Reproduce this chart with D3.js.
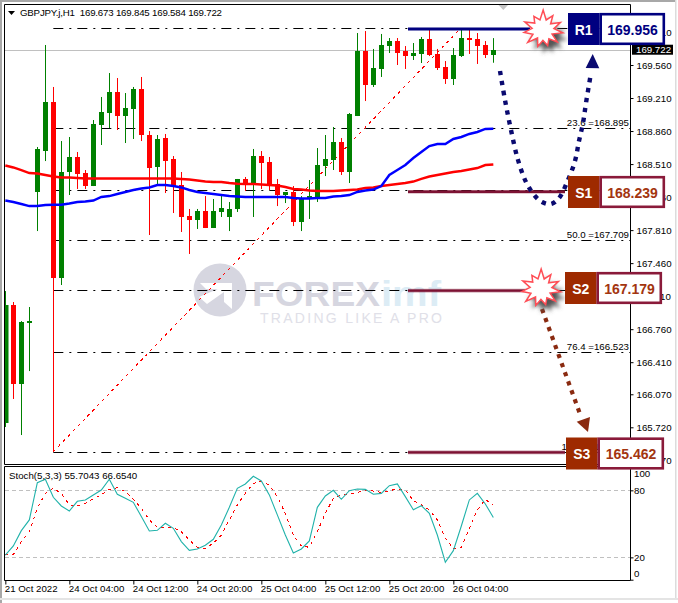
<!DOCTYPE html>
<html><head><meta charset="utf-8">
<script src="https://cdnjs.cloudflare.com/ajax/libs/d3/7.8.5/d3.min.js"></script>
<style>html,body{margin:0;padding:0;background:#fff;overflow:hidden}svg{display:block}text{font-family:"Liberation Sans",Arial,sans-serif}</style>
</head><body><svg id="c" width="678" height="603"></svg>
<script>
const opens=[165.765,167.016,166.179,166.825,168.214,168.648,169.168,167.302,168.426,168.585,168.415,168.277,168.924,169.051,169.274,169.019,169.094,169.306,168.818,168.479,168.786,168.564,168.288,167.959,167.917,168.012,167.832,168.002,167.949,168.034,168.352,168.299,168.595,168.532,168.299,168.182,168.214,167.896,168.140,168.161,168.489,168.553,168.744,168.426,169.019,169.708,169.348,169.518,169.761,169.814,169.708,169.655,169.677,169.836,169.677,169.539,169.412,169.655,169.846,169.836,169.772,169.673];
const highs=[167.164,167.048,166.846,166.995,168.691,169.772,169.327,168.754,168.797,168.638,168.447,168.977,169.221,169.475,169.422,169.263,169.327,169.433,168.860,168.818,168.829,168.595,168.426,168.034,168.034,168.171,168.140,168.171,168.108,168.352,168.373,168.670,168.648,168.585,168.352,168.214,168.277,168.171,168.341,168.680,168.818,168.903,168.786,169.051,169.899,169.920,169.730,169.889,169.846,169.846,169.761,169.793,169.857,169.942,169.730,169.602,169.740,169.942,169.942,169.899,169.814,169.845];
const lows=[165.723,166.020,165.638,166.316,167.800,168.542,165.458,167.228,168.182,168.246,168.246,168.277,168.712,168.892,168.871,168.733,168.776,168.754,167.758,168.288,168.203,167.991,167.790,167.557,167.822,167.832,167.832,167.949,167.800,168.002,168.224,167.949,168.246,168.235,168.065,168.097,167.853,167.800,167.928,168.108,168.383,168.447,168.394,168.309,169.019,169.178,169.327,169.433,169.687,169.560,169.518,169.613,169.581,169.655,169.507,169.359,169.348,169.645,169.677,169.571,169.634,169.584];
const closes=[167.016,166.179,166.836,166.846,168.670,169.168,167.302,168.426,168.585,168.405,168.277,168.935,169.062,169.274,169.019,169.104,169.306,168.818,168.468,168.776,168.542,168.277,167.949,167.917,168.012,167.832,168.012,168.044,168.034,168.352,168.299,168.595,168.521,168.299,168.182,168.214,167.896,168.140,168.171,168.500,168.564,168.744,168.426,169.041,169.708,169.348,169.528,169.772,169.814,169.687,169.655,169.687,169.836,169.666,169.528,169.412,169.666,169.846,169.825,169.761,169.666,169.722];
const maFast=[168.124,168.108,168.087,168.065,168.065,168.076,168.079,168.079,168.092,168.108,168.113,168.124,168.161,168.171,168.193,168.214,168.235,168.251,168.262,168.288,168.288,168.277,168.262,168.235,168.214,168.203,168.193,168.182,168.171,168.166,168.161,168.161,168.161,168.161,168.161,168.161,168.150,168.145,168.145,168.150,168.150,168.166,168.171,168.182,168.214,168.230,168.240,168.277,168.394,168.447,168.500,168.574,168.638,168.701,168.723,168.723,168.776,168.797,168.829,168.850,168.882,168.885];
const maSlow=[168.495,168.474,168.447,168.415,168.410,168.394,168.378,168.368,168.368,168.362,168.357,168.357,168.357,168.357,168.357,168.357,168.357,168.357,168.357,168.357,168.357,168.357,168.352,168.346,168.336,168.325,168.320,168.320,168.309,168.302,168.299,168.299,168.293,168.288,168.283,168.267,168.246,168.240,168.230,168.224,168.224,168.224,168.230,168.235,168.240,168.256,168.262,168.277,168.288,168.299,168.309,168.325,168.352,168.378,168.394,168.410,168.426,168.436,168.452,168.468,168.500,168.505];
const stochMain=[22.1,30.2,43.9,53.5,86.9,89.9,73.8,66,61.5,70.2,71.4,75.9,80.3,89.9,76.5,72.9,69.3,56.5,43.6,44.2,50.5,46,34.1,26.3,27.5,30.8,36.2,49,64.8,81.8,85.7,92.6,88.4,75.9,58,40,23.9,27.5,34.7,64.8,75,80,72,79.7,81.2,80.9,76.5,77.3,84.2,85.7,74.4,62.7,66.3,59.4,40,15.6,26,48.1,71.4,77.3,67.8,55.7];
const stochSignal=[22.1,22.4,34.1,43,63.9,77.3,81.8,77.3,66.9,66,68.4,72.3,75.9,80.9,82.4,78.8,72,63.9,53.5,46.9,46.6,46.6,43,35.6,29,28.1,32.6,40,53.5,66.9,77.3,86.3,87.8,84.8,74.4,59.4,40,30.2,29,43,59.4,72.9,75.9,76.5,78,80.3,79.4,78.2,79.7,81.2,80.3,70.8,66.9,62.4,53.5,37,28.1,29,46,62.4,72,66.65];
const priceTicks=[169.910,169.560,169.210,168.860,168.510,168.160,167.810,167.460,167.110,166.760,166.410,166.070,165.720,165.370];
const timeTickIndex=[0,8,16,24,32,40,48,56];
const timeTickLabels=["21 Oct 2022","24 Oct 04:00","24 Oct 12:00","24 Oct 20:00","25 Oct 04:00","25 Oct 12:00","25 Oct 20:00","26 Oct 04:00"];
const stochTicks=[100,80,20,0];
const fibPrices=[169.956,168.895,168.239,167.709,167.179,166.523,165.462];
const fibLabelRatios=["23.6","50.0","76.4","100.0"];
const fibLabelPrices=[168.895,167.709,166.523,165.462];
const levelNames=["R1","S1","S2","S3"];
const levelValues=["169.956","168.239","167.179","165.462"];
const levelPrices=[169.956,168.239,167.179,165.462];
const title="GBPJPY.j,H1  169.673 169.845 169.584 169.722";
const lastPrice=169.722;

const svg=d3.select("#c");
const FS=9.7, TXT="#000";
const x=d3.scaleLinear().domain([0,61]).range([5.33,493.33]);
const y=d3.scaleLinear().domain([169.56,165.72]).range([65,427.3]);
const ys=d3.scaleLinear().domain([0,100]).range([579.7,468]);
const GREEN="#008000",RED="#ff0000";

// window frame
svg.append("rect").attr("x",0).attr("y",0).attr("width",2).attr("height",603).attr("fill","#a8a8a8");
svg.append("rect").attr("x",0).attr("y",0).attr("width",676).attr("height",2).attr("fill","#a8a8a8");
svg.append("rect").attr("x",675).attr("y",0).attr("width",1.5).attr("height",600).attr("fill","#dcdcdc");
svg.append("rect").attr("x",0).attr("y",598).attr("width",678).attr("height",2).attr("fill","#e4e4e4");

// watermark
const wm=svg.append("g");
wm.append("circle").attr("cx",220).attr("cy",290).attr("r",26.5).attr("fill","#d6d6e0");
wm.append("path").attr("d","M200 283 H232 L226 289 H206 Z M232 283 L232 309 L224 302 L224 292 L207 304 L199 297 Z").attr("fill","#fff");
wm.append("text").attr("x",252).attr("y",306).attr("font-size",34.5).attr("font-weight","bold").attr("fill","#d6d6e0").attr("textLength",128).attr("lengthAdjust","spacingAndGlyphs").text("FOREX");
wm.append("text").attr("x",381).attr("y",306).attr("font-size",34.5).attr("font-weight","bold").attr("fill","#dcecf5").attr("textLength",60).attr("lengthAdjust","spacingAndGlyphs").text("imf");
wm.append("text").attr("x",260).attr("y",323).attr("font-size",14).attr("fill","#e0e0e8").attr("textLength",182).text("TRADING LIKE A PRO");

// fibonacci levels
svg.append("line").attr("x1",4).attr("x2",631).attr("y1",Math.round(y(lastPrice))+.5).attr("y2",Math.round(y(lastPrice))+.5).attr("stroke","#c0c0c0");
svg.selectAll(".fib").data(fibPrices).join("line").attr("class","fib")
  .attr("x1",x(6)).attr("x2",631).attr("y1",d=>Math.round(y(d))+.5).attr("y2",d=>Math.round(y(d))+.5)
  .attr("stroke","#000").attr("stroke-dasharray","10 6 2 6");
svg.selectAll(".fibt").data(fibLabelPrices).join("text").attr("class","fibt")
  .attr("x",629).attr("y",d=>y(d)-2).attr("text-anchor","end").attr("font-size",FS).attr("fill",TXT)
  .text((d,i)=>fibLabelRatios[i]+" ="+d.toFixed(3));
svg.append("line").attr("x1",x(6)).attr("y1",y(fibPrices[6])).attr("x2",x(57)).attr("y2",y(fibPrices[0]))
  .attr("stroke",RED).attr("stroke-dasharray","3 4").attr("shape-rendering","crispEdges");

// candles
const cg=svg.append("g");
const idx=d3.range(opens.length);
cg.selectAll(".w").data(idx).join("line").attr("class","w")
  .attr("x1",i=>Math.round(x(i))+.5).attr("x2",i=>Math.round(x(i))+.5)
  .attr("y1",i=>y(highs[i])).attr("y2",i=>y(lows[i]))
  .attr("stroke",i=>closes[i]>=opens[i]?GREEN:RED);
cg.selectAll(".b").data(idx).join("rect").attr("class","b")
  .attr("x",i=>Math.max(5,Math.round(x(i))-2)).attr("width",i=>i===0?3.5:5)
  .attr("y",i=>Math.round(y(Math.max(opens[i],closes[i]))))
  .attr("height",i=>Math.max(2,Math.round(Math.abs(y(opens[i])-y(closes[i])))))
  .attr("fill",i=>closes[i]>=opens[i]?GREEN:RED);

// moving averages
const lineOf=yy=>d3.line().x((d,i)=>x(i)).y(d=>yy(d));
svg.append("path").attr("d",lineOf(y)(maSlow)).attr("fill","none").attr("stroke",RED).attr("stroke-width",2.4);
svg.append("path").attr("d",lineOf(y)(maFast)).attr("fill","none").attr("stroke","#0000ff").attr("stroke-width",2.4);

// panel borders
svg.append("path").attr("d","M4.5 4.5H630.5V464.5H4.5Z M4.5 466.5H630.5V580.5H4.5Z").attr("fill","none").attr("stroke","#000");

// price axis
const ax=svg.append("g").attr("transform","translate(630.5,0)").call(d3.axisRight(y).tickValues(priceTicks).tickSize(3).tickSizeOuter(0).tickFormat(d3.format(".3f")));
ax.select(".domain").remove();
ax.selectAll("text").attr("font-size",FS).attr("font-family","Liberation Sans").attr("fill",TXT).attr("x",6);
ax.selectAll("line").attr("stroke","#000");
svg.append("rect").attr("x",632).attr("y",y(lastPrice)-5).attr("width",41).attr("height",10).attr("fill","#000");
svg.append("text").attr("x",636).attr("y",y(lastPrice)+3.5).attr("font-size",FS).attr("fill","#fff").text(lastPrice.toFixed(3));

// title
svg.append("path").attr("d","M8 11H15L11.5 15Z").attr("fill","#000");
svg.append("text").attr("x",20).attr("y",16).attr("font-size",FS).attr("fill",TXT).attr("xml:space","preserve").attr("textLength",202).text(title);
svg.append("path").attr("d","M498.5 5H508L503.3 10Z").attr("fill","#c4c4c4");

// level bars
const barEnd=[530,565,530,565];
const barColor=["#000080","#7d1233","#7d1233","#7d1233"];
const barShift=[1.4,2.1,1,0.7];
levelPrices.forEach((p,k)=>{
  const yy=y(p)+barShift[k];
  svg.append("line").attr("x1",408).attr("x2",barEnd[k]).attr("y1",yy).attr("y2",yy).attr("stroke",barColor[k]).attr("stroke-width",3.6).attr("stroke-opacity",.45);
  svg.append("line").attr("x1",408).attr("x2",barEnd[k]).attr("y1",yy).attr("y2",yy).attr("stroke",barColor[k]).attr("stroke-width",2.4);
});

// dotted curves
const defs=svg.append("defs");
defs.append("filter").attr("id","blur").attr("x","-30%").attr("y","-30%").attr("width","160%").attr("height","160%").append("feGaussianBlur").attr("stdDeviation",2.2);
const navyCurve=[[500,71],[505,100],[511,130],[518,160],[526,182],[535,196],[542,202],[551,204],[559,198],[568,180],[575,161],[579,141],[583,123],[586,103],[591,73]];
svg.append("path").attr("d",d3.line().curve(d3.curveCatmullRom)(navyCurve)).attr("fill","none").attr("stroke","#0a0a70").attr("stroke-width",4.4).attr("stroke-dasharray","4.4 5.6");
svg.append("path").attr("d","M592.7 54L585.7 68L599.3 68.3Z").attr("fill","#0a0a70");
svg.append("path").attr("d","M542 309L580 414").attr("fill","none").attr("stroke","#8a2a10").attr("stroke-width",4.2).attr("stroke-dasharray","4.2 5.4");
svg.append("path").attr("d","M588 432L576.7 421.7L590 417Z").attr("fill","#8a2a10");

// bursts
const burstR=[20,10,19,11,17,11,18,10,20,11,19,11,20,11,17,11,21,11,18,10,19,11];
function burst(cx,cy){
  const pts=burstR.map((r,i)=>{const a=i/burstR.length*2*Math.PI+.15;return [cx+r*Math.cos(a),cy+r*.95*Math.sin(a)];});
  const d=d3.line().curve(d3.curveLinearClosed)(pts);
  svg.append("path").attr("d",d).attr("transform","translate(5,7)").attr("fill","#555").attr("filter","url(#blur)");
  svg.append("path").attr("d",d).attr("fill","#fff").attr("stroke","#ff4d55").attr("stroke-width",1.5);
}
burst(543,30);burst(541,289);

// level boxes
const boxes=[{x:568,y:13,h:32,r:665,c:"#000080",b:"#000080",t:"#000080"},
 {x:568,y:176,h:32,r:665,c:"#9e2a00",b:"#8a1a3a",t:"#a33510"},
 {x:565,y:272,h:32,r:662,c:"#9e2a00",b:"#8a1a3a",t:"#a33510"},
 {x:566,y:437.5,h:32,r:664,c:"#9e2a00",b:"#8a1a3a",t:"#a33510"}];
boxes.forEach((o,k)=>{
  svg.append("rect").attr("x",o.x).attr("y",o.y).attr("width",31.5).attr("height",o.h).attr("fill",o.c);
  svg.append("rect").attr("x",o.x+31.5+1.2).attr("y",o.y+1.2).attr("width",o.r-o.x-33.9).attr("height",o.h-2.4).attr("fill","#fff").attr("stroke",o.b).attr("stroke-width",2.6);
  svg.append("text").attr("x",o.x+15.7).attr("y",o.y+21.5).attr("text-anchor","middle").attr("font-size",14).attr("font-weight","bold").attr("fill","#fff").text(levelNames[k]);
  svg.append("text").attr("x",(o.x+32+o.r)/2).attr("y",o.y+21.5).attr("text-anchor","middle").attr("font-size",14).attr("font-weight","bold").attr("fill",o.t).text(levelValues[k]);
});

// stochastic
svg.selectAll(".sl").data([80,20]).join("line").attr("class","sl").attr("x1",5).attr("x2",630).attr("y1",d=>Math.round(ys(d))+.5).attr("y2",d=>Math.round(ys(d))+.5).attr("stroke","#c0c0c0").attr("stroke-dasharray","4 3");
svg.append("path").attr("d",lineOf(ys)(stochSignal)).attr("fill","none").attr("stroke",RED).attr("stroke-dasharray","3 4").attr("shape-rendering","crispEdges");
svg.append("path").attr("d",lineOf(ys)(stochMain)).attr("fill","none").attr("stroke","#20b2aa").attr("stroke-width",1.1);
svg.append("text").attr("x",9).attr("y",479).attr("font-size",FS).attr("fill",TXT).text("Stoch(5,3,3) 55.7043 66.6540");
const sax=svg.append("g").attr("transform","translate(630.5,0)").call(d3.axisRight(ys).tickValues(stochTicks).tickSize(3).tickSizeOuter(0));
sax.select(".domain").remove();
sax.selectAll("text").attr("font-size",FS).attr("font-family","Liberation Sans").attr("fill",TXT).attr("x",3.5).attr("dy",d=>d===100?"0.85em":d===0?"-0.35em":"0.32em");
sax.selectAll("line").attr("stroke","#000").filter(d=>d===100).remove();

// time axis
const tax=svg.append("g").attr("transform","translate(0,580.5)").call(d3.axisBottom(x).tickValues(timeTickIndex).tickSize(4).tickSizeOuter(0).tickFormat((d,i)=>timeTickLabels[i]));
tax.select(".domain").remove();
tax.selectAll("line").attr("stroke","#000");
tax.selectAll("text").attr("font-size",FS).attr("font-family","Liberation Sans").attr("fill",TXT).attr("text-anchor","start").attr("x",-1).attr("y",5).attr("dy","0.71em");
</script></body></html>
